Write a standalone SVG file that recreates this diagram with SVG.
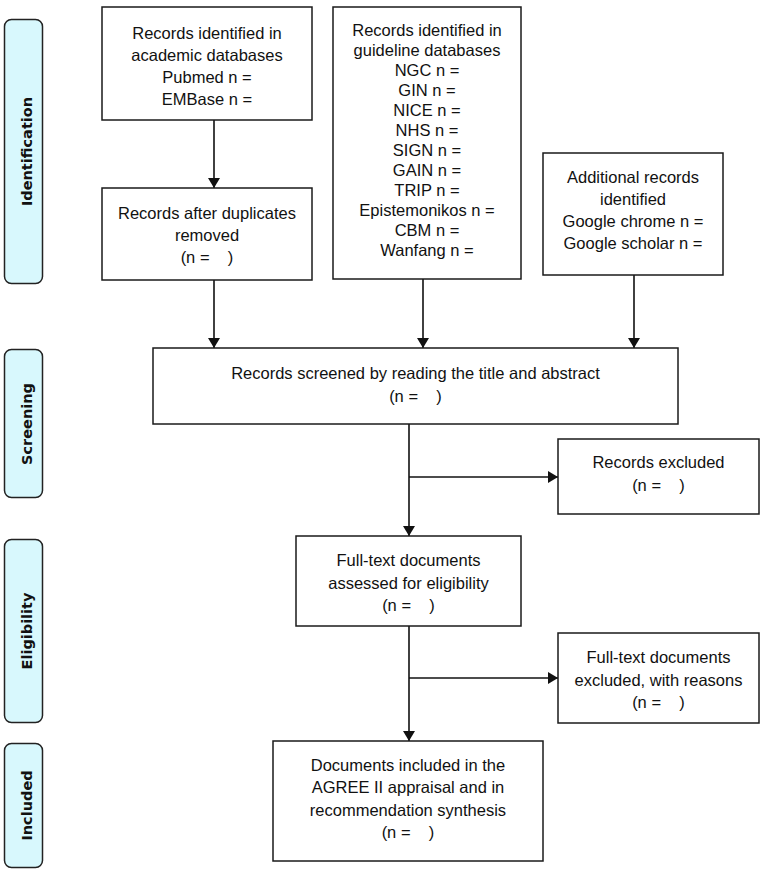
<svg xmlns="http://www.w3.org/2000/svg" width="767" height="874" viewBox="0 0 767 874">
<style>
.bx{fill:#fff;stroke:#1a1a1a;stroke-width:1.5}
.side{fill:#D8F8FD;stroke:#222;stroke-width:1.5}
.t{font-family:"Liberation Sans",Arial,sans-serif;font-size:16.5px;fill:#111;text-anchor:middle}
.s{font-family:"DejaVu Sans",Verdana,sans-serif;font-size:14.5px;font-weight:bold;fill:#111;text-anchor:middle}
.ln{stroke:#111;stroke-width:1.6;fill:none;marker-end:url(#ah)}
</style>
<defs>
<marker id="ah" viewBox="0 0 10 12" refX="10" refY="6" markerWidth="10" markerHeight="12" markerUnits="userSpaceOnUse" orient="auto">
<path d="M0,0 L10,6 L0,12 z" fill="#111"/>
</marker>
</defs>
<rect width="767" height="874" fill="#fff"/>

<g id="side-identification"><rect class="side" x="4.5" y="19.5" width="38" height="264" rx="7"/><text class="s" transform="translate(32,151.5) rotate(-90)">Identification</text></g>
<g id="side-screening"><rect class="side" x="4.5" y="349.5" width="38" height="148" rx="7"/><text class="s" transform="translate(32,424) rotate(-90)">Screening</text></g>
<g id="side-eligibility"><rect class="side" x="4.5" y="539.5" width="38" height="183" rx="7"/><text class="s" transform="translate(32,631) rotate(-90)">Eligibility</text></g>
<g id="side-included"><rect class="side" x="4.5" y="743.5" width="38" height="124" rx="7"/><text class="s" transform="translate(32,805.5) rotate(-90)">Included</text></g>

<g id="connectors">
<line class="ln" x1="214" y1="120" x2="214" y2="188"/>
<line class="ln" x1="214" y1="280" x2="214" y2="348"/>
<line class="ln" x1="423" y1="279" x2="423" y2="348"/>
<line class="ln" x1="634" y1="275" x2="634" y2="348"/>
<line class="ln" x1="409" y1="424" x2="409" y2="536"/>
<line class="ln" x1="409" y1="477" x2="558" y2="477"/>
<line class="ln" x1="409" y1="626" x2="409" y2="741"/>
<line class="ln" x1="409" y1="678" x2="558" y2="678"/>
</g>

<g id="academic">
<rect class="bx" x="102" y="7" width="210" height="113"/>
<text class="t" x="207" y="39">Records identified in</text>
<text class="t" x="207" y="61">academic databases</text>
<text class="t" x="207" y="83">Pubmed n =</text>
<text class="t" x="207" y="105">EMBase n =</text>
</g>

<g id="duplicates">
<rect class="bx" x="102" y="188" width="210" height="92"/>
<text class="t" x="207" y="219">Records after duplicates</text>
<text class="t" x="207" y="241">removed</text>
<text class="t" x="207" y="263" xml:space="preserve">(n =    )</text>
</g>

<g id="guideline">
<rect class="bx" x="333" y="7" width="188" height="272"/>
<text class="t" x="427" y="36">Records identified in</text>
<text class="t" x="427" y="55.5">guideline databases</text>
<text class="t" x="427" y="75.5">NGC n =</text>
<text class="t" x="427" y="95.5">GIN n =</text>
<text class="t" x="427" y="115.5">NICE n =</text>
<text class="t" x="427" y="135.5">NHS n =</text>
<text class="t" x="427" y="155.5">SIGN n =</text>
<text class="t" x="427" y="175.5">GAIN n =</text>
<text class="t" x="427" y="195.5">TRIP n =</text>
<text class="t" x="427" y="215.5">Epistemonikos n =</text>
<text class="t" x="427" y="235.5">CBM n =</text>
<text class="t" x="427" y="255.5">Wanfang n =</text>
</g>

<g id="additional">
<rect class="bx" x="543" y="153" width="180" height="122"/>
<text class="t" x="633" y="183">Additional records</text>
<text class="t" x="633" y="205">identified</text>
<text class="t" x="633" y="227">Google chrome n =</text>
<text class="t" x="633" y="249">Google scholar n =</text>
</g>

<g id="screened">
<rect class="bx" x="153" y="348" width="525" height="76"/>
<text class="t" x="415.5" y="379">Records screened by reading the title and abstract</text>
<text class="t" x="415.5" y="402" xml:space="preserve">(n =    )</text>
</g>

<g id="excluded">
<rect class="bx" x="558" y="439" width="201" height="75"/>
<text class="t" x="658.5" y="468">Records excluded</text>
<text class="t" x="658.5" y="491" xml:space="preserve">(n =    )</text>
</g>

<g id="fulltext">
<rect class="bx" x="296" y="536" width="225" height="90"/>
<text class="t" x="408.5" y="566">Full-text documents</text>
<text class="t" x="408.5" y="588.5">assessed for eligibility</text>
<text class="t" x="408.5" y="611" xml:space="preserve">(n =    )</text>
</g>

<g id="fulltext-excluded">
<rect class="bx" x="558" y="633" width="201" height="90"/>
<text class="t" x="658.5" y="663">Full-text documents</text>
<text class="t" x="658.5" y="685.5">excluded, with reasons</text>
<text class="t" x="658.5" y="708" xml:space="preserve">(n =    )</text>
</g>

<g id="included">
<rect class="bx" x="273" y="741" width="270" height="120"/>
<text class="t" x="408" y="771">Documents included in the</text>
<text class="t" x="408" y="793">AGREE II appraisal and in</text>
<text class="t" x="408" y="815.5">recommendation synthesis</text>
<text class="t" x="408" y="838" xml:space="preserve">(n =    )</text>
</g>
</svg>
